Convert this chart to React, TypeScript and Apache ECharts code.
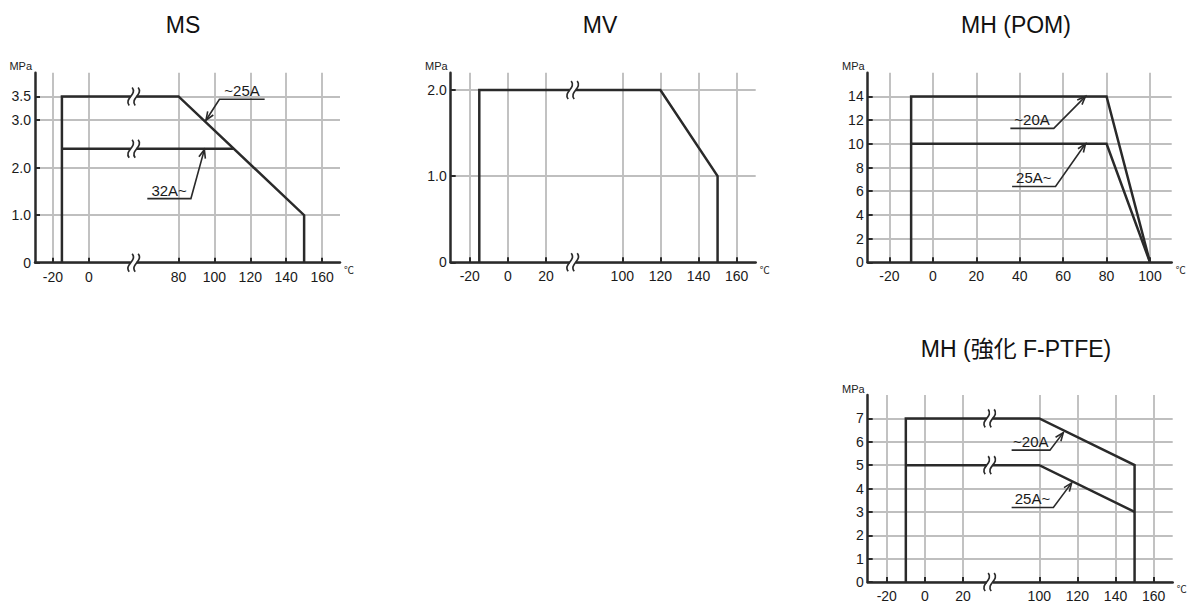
import React, { useEffect, useRef } from "react";
import * as echarts from "echarts";

// ---------- data ----------
const titles = ["MS", "MV", "MH (POM)", "MH (強化 F-PTFE)"];

// MS  (x axis broken between 25 and 55 °C)
const msXTicks = [-20, 0, 80, 100, 120, 140, 160];
const msYTicks = [0, 1.0, 2.0, 3.0, 3.5];
const msUpTo25A = [[-15, 0], [-15, 3.5], [80, 3.5], [150, 1.0], [150, 0]];
const ms32AUp = [[-15, 2.4], [110.8, 2.4]];
const msBreaks = [[25, 3.5], [25, 2.4], [25, 0]];

// MV  (x axis broken between 34 and 74 °C)
const mvXTicks = [-20, 0, 20, 100, 120, 140, 160];
const mvYTicks = [0, 1.0, 2.0];
const mvLine = [[-15, 0], [-15, 2.0], [120, 2.0], [150, 1.0], [150, 0]];
const mvBreaks = [[34, 2.0], [34, 0]];

// MH (POM)
const pomXTicks = [-20, 0, 20, 40, 60, 80, 100];
const pomYTicks = [0, 2, 4, 6, 8, 10, 12, 14];
const pomUpTo20A = [[-10, 0], [-10, 14], [80, 14], [100, 0]];
const pom25AUp = [[-10, 10], [80, 10], [100, 0]];

// MH (強化 F-PTFE)  (x axis broken between 34 and 74 °C)
const ptfeXTicks = [-20, 0, 20, 100, 120, 140, 160];
const ptfeYTicks = [0, 1, 2, 3, 4, 5, 6, 7];
const ptfeUpTo20A = [[-10, 0], [-10, 7], [100, 7], [150, 5], [150, 0]];
const ptfe25AUp = [[-10, 5], [100, 5], [150, 3]];
const ptfeBreaks = [[34, 7], [34, 5], [34, 0]];

// annotations: [underline start °C, underline end °C, underline MPa, tip °C, tip MPa, arrow from end (1) or start (0)]
const msAnn = [[102.8, 128, 3.44, 95.3, 3.0, 0], [62.6, 86.9, 1.35, 94.4, 2.38, 1]];
const msAnnLabels = ["~25A", "32A~"];
const pomAnn = [[35.7, 55.7, 11.3, 70.3, 14.0, 1], [36.5, 56.5, 6.4, 70.3, 10.0, 1]];
const pomAnnLabels = ["~20A", "25A~"];
const ptfeAnn = [[85.5, 105.6, 5.64, 112.6, 6.39, 1], [85.5, 107.4, 3.19, 117, 4.24, 1]];
const ptfeAnnLabels = ["~20A", "25A~"];

// ---------- axis mappings (temperature -> grid column index) ----------
type Map = (t: number) => number;
const mapMS: Map = (t) => (t <= 25 ? (t + 30) / 10 : t / 10);
const mapMV: Map = (t) => (t <= 34 ? (t + 30) / 10 : t / 10 - 1);
const mapPOM: Map = (t) => (t + 30) / 10;

const FONT = "'Liberation Sans', Arial, 'Noto Sans CJK JP', sans-serif";
const DARK = "#2a2a2a";
const GRIDC = "#bfbfbf";

const grids = [
  { left: 35, top: 72.7, width: 305, height: 190 },
  { left: 450.7, top: 72.7, width: 305, height: 189.6 },
  { left: 867.7, top: 72.7, width: 304, height: 189.6 },
  { left: 867.7, top: 395, width: 305, height: 191 },
];

const conv = (pts: number[][], m: Map) => pts.map((p) => [m(p[0]), p[1]]);

function xAxisFor(i: number, max: number, ticks: number[], m: Map) {
  const vals = ticks.map(m);
  const lbl: Record<string, string> = {};
  ticks.forEach((t, k) => (lbl[vals[k].toFixed(3)] = String(t)));
  return {
    type: "value",
    gridIndex: i,
    min: 0,
    max,
    interval: 1,
    name: "℃",
    nameLocation: "end",
    nameGap: 4,
    nameTextStyle: { fontSize: 10, color: "#222", fontFamily: FONT, verticalAlign: "top", padding: [3, 0, 0, 0] },
    axisLine: { show: true, onZero: false, lineStyle: { color: DARK, width: 2.5 } },
    axisTick: { show: true, inside: true, length: 5, customValues: vals, lineStyle: { color: DARK, width: 2 } },
    axisLabel: {
      customValues: vals,
      margin: 7,
      fontSize: 14,
      color: "#1a1a1a",
      fontFamily: FONT,
      formatter: (v: number) => lbl[v.toFixed(3)] ?? "",
    },
    splitLine: { show: true, lineStyle: { color: GRIDC, width: 1.9 } },
  };
}

function yAxisFor(i: number, max: number, interval: number, ticks: number[], dec: boolean) {
  return {
    type: "value",
    gridIndex: i,
    min: 0,
    max,
    interval,
    name: "MPa",
    nameLocation: "end",
    nameGap: 1,
    nameTextStyle: { fontSize: 11, color: "#222", fontFamily: FONT, align: "right", padding: [0, 3, 0, 0] },
    axisLine: { show: true, lineStyle: { color: DARK, width: 2.5 } },
    axisTick: { show: true, inside: true, length: 5, customValues: ticks, lineStyle: { color: DARK, width: 2 } },
    axisLabel: {
      customValues: ticks,
      margin: 4,
      fontSize: 14,
      color: "#1a1a1a",
      fontFamily: FONT,
      formatter: (v: number) => (v === 0 ? "0" : dec ? v.toFixed(1) : String(v)),
    },
    splitLine: { show: true, lineStyle: { color: GRIDC, width: 1.9 } },
  };
}

function lineSeries(i: number, data: number[][]) {
  return {
    type: "line",
    xAxisIndex: i,
    yAxisIndex: i,
    data,
    symbol: "none",
    silent: true,
    z: 3,
    lineStyle: { color: DARK, width: 2.5, join: "miter" },
  };
}

function breakSeries(i: number, data: number[][]) {
  return {
    type: "custom",
    xAxisIndex: i,
    yAxisIndex: i,
    coordinateSystem: "cartesian2d",
    clip: false,
    silent: true,
    z: 5,
    data,
    renderItem: (_p: any, api: any) => {
      const c = api.coord([api.value(0), api.value(1)]);
      const cx = c[0];
      const cy = c[1];
      const h = 9;
      const d = 3;
      const curve = (ox: number) => ({
        type: "bezierCurve",
        shape: {
          x1: cx + ox + 1.5, y1: cy - h,
          cpx1: cx + ox + 7, cpy1: cy - 2,
          cpx2: cx + ox - 7, cpy2: cy + 2,
          x2: cx + ox - 1.5, y2: cy + h,
        },
        style: { stroke: DARK, lineWidth: 1.7, fill: "none" },
      });
      return {
        type: "group",
        children: [
          { type: "rect", shape: { x: cx - d, y: cy - 3, width: 2 * d, height: 6 }, style: { fill: "#fff" } },
          curve(-d),
          curve(d),
        ],
      };
    },
  };
}

function annSeries(i: number, anns: number[][], labels: string[], m: Map) {
  return {
    type: "custom",
    xAxisIndex: i,
    yAxisIndex: i,
    coordinateSystem: "cartesian2d",
    clip: false,
    silent: true,
    z: 6,
    data: anns.map((a) => [m(a[0]), m(a[1]), a[2], m(a[3]), a[4], a[5]]),
    renderItem: (p: any, api: any) => {
      const a = api.coord([api.value(0), api.value(2)]);
      const b = api.coord([api.value(1), api.value(2)]);
      const tip = api.coord([api.value(3), api.value(4)]);
      const fromEnd = api.value(5) === 1;
      const s = fromEnd ? b : a;
      const ang = Math.atan2(tip[1] - s[1], tip[0] - s[0]);
      const L = 9;
      const w = 0.38;
      const h1 = [tip[0] - L * Math.cos(ang - w), tip[1] - L * Math.sin(ang - w)];
      const h2 = [tip[0] - L * Math.cos(ang + w), tip[1] - L * Math.sin(ang + w)];
      const st = { stroke: DARK, lineWidth: 1.6, fill: "none" };
      return {
        type: "group",
        children: [
          { type: "polyline", shape: { points: fromEnd ? [a, b, tip] : [b, a, tip] }, style: st },
          { type: "polyline", shape: { points: [h1, tip, h2] }, style: st },
          {
            type: "text",
            style: {
              text: labels[p.dataIndex],
              x: (a[0] + b[0]) / 2,
              y: a[1] - 1,
              align: "center",
              verticalAlign: "bottom",
              fontSize: 15,
              fontFamily: FONT,
              fill: "#1a1a1a",
            },
          },
        ],
      };
    },
  };
}

export default function App() {
  const ref = useRef<HTMLDivElement>(null);
  useEffect(() => {
    if (!ref.current) return;
    const chart = echarts.init(ref.current, null, { renderer: "svg" });
    const titleCenters = [[178, 22], [595, 22], [1011, 22], [1011, 346]];
    chart.setOption({
      animation: false,
      backgroundColor: "#fff",
      title: titles.map((t, k) => ({
        text: t,
        left: titleCenters[k][0],
        top: titleCenters[k][1] - 14,
        textAlign: "center",
        textStyle: { fontSize: 23, fontWeight: "normal", color: "#111", fontFamily: FONT },
      })),
      grid: grids,
      xAxis: [
        xAxisFor(0, 17, msXTicks, mapMS),
        xAxisFor(1, 16, mvXTicks, mapMV),
        xAxisFor(2, 14, pomXTicks, mapPOM),
        xAxisFor(3, 16, ptfeXTicks, mapMV),
      ],
      yAxis: [
        yAxisFor(0, 4, 0.5, msYTicks, true),
        yAxisFor(1, 2.2, 0.2, mvYTicks, true),
        yAxisFor(2, 16, 2, pomYTicks, false),
        yAxisFor(3, 8, 1, ptfeYTicks, false),
      ],
      series: [
        lineSeries(0, conv(msUpTo25A, mapMS)),
        lineSeries(0, conv(ms32AUp, mapMS)),
        breakSeries(0, conv(msBreaks, mapMS)),
        annSeries(0, msAnn, msAnnLabels, mapMS),
        lineSeries(1, conv(mvLine, mapMV)),
        breakSeries(1, conv(mvBreaks, mapMV)),
        lineSeries(2, conv(pomUpTo20A, mapPOM)),
        lineSeries(2, conv(pom25AUp, mapPOM)),
        annSeries(2, pomAnn, pomAnnLabels, mapPOM),
        lineSeries(3, conv(ptfeUpTo20A, mapMV)),
        lineSeries(3, conv(ptfe25AUp, mapMV)),
        breakSeries(3, conv(ptfeBreaks, mapMV)),
        annSeries(3, ptfeAnn, ptfeAnnLabels, mapMV),
      ],
    });
    return () => chart.dispose();
  }, []);
  return (
    <div
      ref={ref}
      style={{ position: "absolute", left: 0, top: 0, width: 1188, height: 603, background: "#fff" }}
    />
  );
}
